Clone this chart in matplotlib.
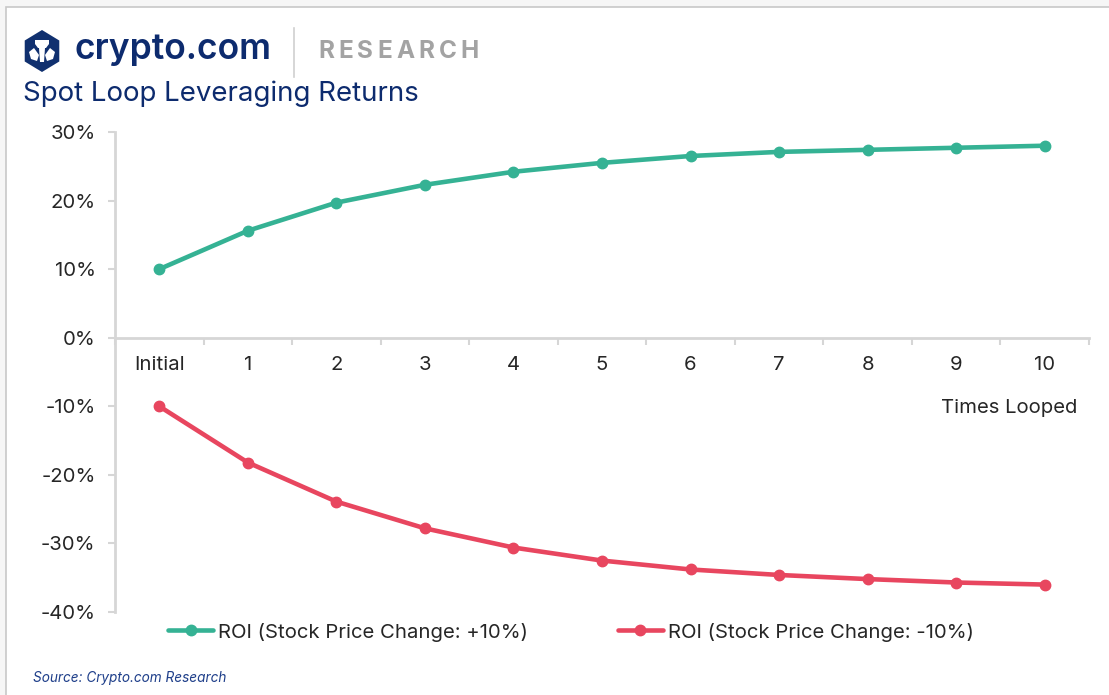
import matplotlib
matplotlib.use("Agg")
import matplotlib.pyplot as plt
from matplotlib.patches import Rectangle, Polygon
from matplotlib.lines import Line2D
import numpy as np

categories = ["Initial", "1", "2", "3", "4", "5", "6", "7", "8", "9", "10"]
roi_up = [10.0, 15.6, 19.7, 22.3, 24.2, 25.5, 26.5, 27.1, 27.4, 27.7, 28.0]
roi_down = [-10.0, -18.2, -23.9, -27.8, -30.6, -32.5, -33.8, -34.6, -35.2, -35.7, -36.0]
series_labels = ["ROI (Stock Price Change: +10%)", "ROI (Stock Price Change: -10%)"]
yticks = [30, 20, 10, 0, -10, -20, -30, -40]

plt.rcParams['font.family'] = ['Inter', 'DejaVu Sans']

W, H = 1109, 695
fig = plt.figure(figsize=(W / 100, H / 100), dpi=100)
fig.patch.set_facecolor('#f6f6f6')

def fx(px):
    return px / W

def fy(py):
    return 1 - py / H

# white card with border top/left
card = Rectangle((fx(6), -0.05), 1.1, fy(7) + 0.05, transform=fig.transFigure,
                 facecolor='white', edgecolor='#c8c8c8', linewidth=1.2, zorder=-5)
fig.patches.append(card)

TEAL = '#35b294'
RED = '#e8465f'
NAVY = '#0d2b6e'
GRID = '#d6d6d6'
TXT = '#262626'
FS = 14.6

ax = fig.add_axes([fx(115), fy(612), fx(1089) - fx(115), fy(132) - fy(612)])
ax.set_facecolor('none')
x = np.arange(len(categories))
l1, = ax.plot(x, roi_up, color=TEAL, lw=3.3, marker='o', ms=7.5, label=series_labels[0],
              solid_capstyle='round')
l2, = ax.plot(x, roi_down, color=RED, lw=3.3, marker='o', ms=7.5, label=series_labels[1],
              solid_capstyle='round')

ax.set_xlim(-0.5, len(categories) - 0.5)
ax.set_ylim(-40, 30)
ax.set_yticks(yticks)
ax.set_yticklabels([f"{v}%" for v in yticks])
ax.set_xticks(x)
ax.set_xticklabels(categories)
ax.set_xticks(np.arange(-0.5, len(categories), 1), minor=True)

for s in ['top', 'right']:
    ax.spines[s].set_visible(False)
ax.spines['bottom'].set_position(('data', 0))
ax.spines['bottom'].set_color(GRID)
ax.spines['bottom'].set_linewidth(2)
ax.spines['left'].set_color(GRID)
ax.spines['left'].set_linewidth(2)

ax.tick_params(axis='x', which='major', length=0, pad=13, labelsize=FS, labelcolor=TXT)
ax.tick_params(axis='x', which='minor', length=5, width=1.5, color=GRID, direction='out')
ax.tick_params(axis='y', which='major', length=5, width=1.5, color=GRID, pad=9,
               labelsize=FS, labelcolor=TXT)

fig.text(fx(1077), fy(408), "Times Looped", ha='right', va='center', fontsize=FS, color=TXT)

leg = fig.legend(handles=[l1, l2], loc='center', bbox_to_anchor=(fx(571), fy(632)), ncol=2,
                 frameon=False, fontsize=FS, handlelength=2.25, handletextpad=0.25,
                 columnspacing=4.4)
for t in leg.get_texts():
    t.set_color(TXT)

# Source
fig.text(fx(33), fy(678), "Source: Crypto.com Research", ha='left', va='center',
         fontsize=9.8, style='italic', color='#1f3f8a')

# Title
fig.text(fx(23), fy(94), "Spot Loop Leveraging Returns", ha='left', va='center',
         fontsize=19.9, color=NAVY)

# Logo hexagon
cx, cy, r = 42, 51, 21
ang = np.deg2rad(np.arange(6) * 60 + 90)
hex_pts = [(fx(cx + r * np.cos(a) * 0.95), fy(cy - r * np.sin(a))) for a in ang]
fig.patches.append(Polygon(hex_pts, closed=True, transform=fig.transFigure,
                           facecolor='#10306f', edgecolor='none', zorder=2))
# simple white lion glyph
top = [(cx - 7, cy - 11), (cx + 7, cy - 11), (cx + 7, cy - 7), (cx + 4, cy - 3), (cx - 4, cy - 3), (cx - 7, cy - 7)]
fig.patches.append(Polygon([(fx(a), fy(b)) for a, b in top], transform=fig.transFigure,
                           facecolor='white', edgecolor='none', zorder=3))
left = [(cx - 13, cy + 1), (cx - 8, cy - 3), (cx - 3, cy + 4), (cx - 5, cy + 10), (cx - 11, cy + 8)]
right = [(2 * cx - a, b) for a, b in left]
for shape in (left, right):
    fig.patches.append(Polygon([(fx(a), fy(b)) for a, b in shape], transform=fig.transFigure,
                               facecolor='white', edgecolor='none', zorder=3))
mid = [(cx - 3, cy - 3), (cx + 3, cy - 3), (cx + 2, cy + 11), (cx - 2, cy + 11)]
fig.patches.append(Polygon([(fx(a), fy(b)) for a, b in mid], transform=fig.transFigure,
                           facecolor='white', edgecolor='none', zorder=3))

fig.text(fx(75), fy(50), "crypto.com", ha='left', va='center', fontsize=25.5,
         fontweight='semibold', color=NAVY)
fig.add_artist(Line2D([fx(294), fx(294)], [fy(28), fy(77)], transform=fig.transFigure,
                      color='#d0d0d0', lw=1.2))

# letter-spaced RESEARCH
word = "RESEARCH"
fig.canvas.draw()
renderer = fig.canvas.get_renderer()
xpos = 318
for ch in word:
    t = fig.text(fx(xpos), fy(52), ch, ha='left', va='center', fontsize=17.5,
                 fontweight='bold', color='#a3a3a3')
    bb = t.get_window_extent(renderer=renderer)
    xpos += bb.width + 4.2

fig.savefig("out.png", dpi=100, facecolor=fig.get_facecolor())
